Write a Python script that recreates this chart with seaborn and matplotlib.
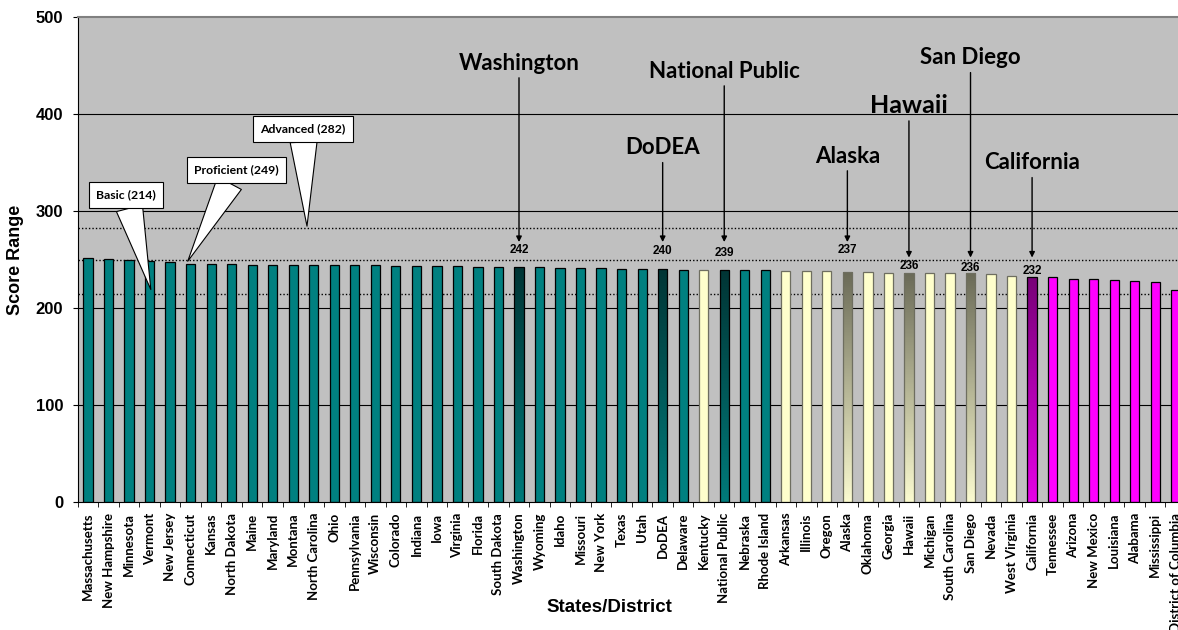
import numpy as np
import pandas as pd
import seaborn as sns
import matplotlib.pyplot as plt
from matplotlib.colors import LinearSegmentedColormap

plt.rcParams['font.family'] = ['Liberation Sans', 'DejaVu Sans']

states = [
    "Massachusetts", "New Hampshire", "Minnesota", "Vermont", "New Jersey",
    "Connecticut", "Kansas", "North Dakota", "Maine", "Maryland", "Montana",
    "North Carolina", "Ohio", "Pennsylvania", "Wisconsin", "Colorado",
    "Indiana", "Iowa", "Virginia", "Florida", "South Dakota", "Washington",
    "Wyoming", "Idaho", "Missouri", "New York", "Texas", "Utah", "DoDEA",
    "Delaware", "Kentucky", "National Public", "Nebraska", "Rhode Island",
    "Arkansas", "Illinois", "Oregon", "Alaska", "Oklahoma", "Georgia",
    "Hawaii", "Michigan", "South Carolina", "San Diego", "Nevada",
    "West Virginia", "California", "Tennessee", "Arizona", "New Mexico",
    "Louisiana", "Alabama", "Mississippi", "District of Columbia",
]
scores = [
    252, 251, 249, 248, 247, 245, 245, 245, 244, 244, 244, 244, 244, 244,
    244, 243, 243, 243, 243, 242, 242, 242, 242, 241, 241, 241, 240, 240,
    240, 239, 239, 239, 239, 239, 238, 238, 238, 237, 237, 236, 236, 236,
    236, 236, 235, 233, 232, 232, 230, 230, 229, 228, 227, 219,
]
# H = higher, S = not significantly different, L = lower
comparison = list(
    "HHHHHHHHHH"
    "HHHHHHHHHH"
    "HHHHHHHHHH"
    "SHHH"
    "SSSSSSSSSSSS"
    "LLLLLLLL"
)
highlighted = ["Washington", "DoDEA", "National Public", "Alaska",
               "Hawaii", "San Diego", "California"]

level_names = ["Basic", "Proficient", "Advanced"]
level_cuts = [214, 249, 282]

# layout of the annotations (data units)
hl_text_y = [446, 358.5, 437.7, 350, 401.5, 451.4, 343]
hl_tip_y = [268, 268, 268, 268, 252, 252, 252]
hl_value_y = [260.3, 259, 257, 260.3, 243.8, 241.7, 238]
hl_size = [16, 16, 16, 16, 18, 16, 16]
level_box_xy = [(1.85, 316.6), (7.24, 342.5), (10.48, 384.8)]
level_tip_xy = [(3.06, 219), (4.86, 248.2), (10.67, 284.4)]

fill_colors = {"H": "#008080", "S": "#ffffcc", "L": "#ff00ff"}
edge_colors = {"H": "black", "S": "#6e6e60", "L": "black"}
grad_colors = {"H": ("#003535", "#007a7a"), "S": ("#6b6b58", "#fbfbd0"),
               "L": ("#780078", "#e600e6")}

df = pd.DataFrame({"state": states, "score": scores, "group": comparison})
palette = {s: fill_colors[g] for s, g in zip(states, comparison)}

fig, ax = plt.subplots(figsize=(11.78, 6.30), dpi=100)
fig.subplots_adjust(left=0.066, right=1.0068, top=0.9725, bottom=0.2037)
ax.set_facecolor("#c0c0c0")

sns.barplot(data=df, x="state", y="score", hue="state", palette=palette,
            legend=False, width=0.45, saturation=1, edgecolor="black",
            linewidth=0.9, zorder=2, ax=ax)

bars = sorted(ax.patches, key=lambda p: p.get_x())
for bar, s, g in zip(bars, states, comparison):
    bar.set_edgecolor(edge_colors[g])
    if s in highlighted:
        top, bottom = grad_colors[g]
        cmap = LinearSegmentedColormap.from_list(s, [bottom, top])
        x0, w, h = bar.get_x(), bar.get_width(), bar.get_height()
        im = ax.imshow(np.linspace(0, 1, 200).reshape(-1, 1), cmap=cmap,
                       extent=(x0, x0 + w, 0, h), origin="lower",
                       aspect="auto", zorder=1.9)
        im.set_clip_path(bar)
        bar.set_facecolor("none")

for v in [100, 200, 300, 400]:
    ax.axhline(v, color="black", lw=0.8, zorder=0.5)
for v in level_cuts:
    ax.axhline(v, color="black", lw=1.0, ls=(0, (1, 1.5)), zorder=0.6)

ax.set_xlim(-0.5, len(states) - 0.5)
ax.set_ylim(0, 500)

ax.spines["top"].set_color("#808080")
ax.spines["top"].set_linewidth(1.5)
ax.spines["right"].set_visible(False)
ax.spines["left"].set_color("black")
ax.spines["bottom"].set_color("black")

ax.set_yticks(range(0, 501, 100))
ax.set_yticklabels([str(v) for v in range(0, 501, 100)], fontsize=12,
                   fontweight="bold")
ax.tick_params(axis="y", length=3.6, pad=7, color="black")

ax.set_xticks(range(len(states)))
ax.set_xticklabels(states, rotation=90, fontsize=9.5, fontweight="bold",
                   family=["Lato", "DejaVu Sans"])
ax.set_xticks(np.arange(-0.5, len(states), 1), minor=True)
ax.tick_params(axis="x", which="major", length=0, pad=8)
ax.tick_params(axis="x", which="minor", length=3.5, color="black")
ax.set_xlabel("")
ax.set_ylabel("Score Range", fontsize=13, fontweight="bold", labelpad=8)
fig.text(609 / 1178, 1 - 608 / 630, "States/District", fontsize=13.5,
         fontweight="bold", ha="center", va="center")

# achievement level callouts
for name, cut, (tx, ty), (px, py) in zip(level_names, level_cuts,
                                         level_box_xy, level_tip_xy):
    ax.annotate(f"{name} ({cut})", xy=(px, py), xytext=(tx, ty),
                ha="center", va="center", fontsize=8.8, fontweight="bold",
                family=["Lato", "DejaVu Sans"], zorder=5,
                bbox=dict(boxstyle="square,pad=0.6", fc="white", ec="black",
                          lw=0.8),
                arrowprops=dict(arrowstyle="wedge,tail_width=2.2,shrink_factor=0.5",
                                fc="white", ec="black", lw=0.8,
                                shrinkA=0, shrinkB=0))

# highlighted jurisdictions
for name, ty, tip, vy, fs in zip(highlighted, hl_text_y, hl_tip_y,
                                 hl_value_y, hl_size):
    i = states.index(name)
    ax.annotate(name, xy=(i, tip), xytext=(i, ty), ha="center",
                va="baseline", fontsize=fs, fontweight="bold",
                family=["Lato", "DejaVu Sans"], zorder=5,
                arrowprops=dict(arrowstyle="-|>", color="black", lw=1.0,
                                mutation_scale=8, shrinkA=1, shrinkB=0))
    ax.text(i, vy, str(scores[i]), ha="center", va="center", fontsize=8.5,
            fontweight="bold", zorder=5)

fig.savefig("out.png", dpi=100)
